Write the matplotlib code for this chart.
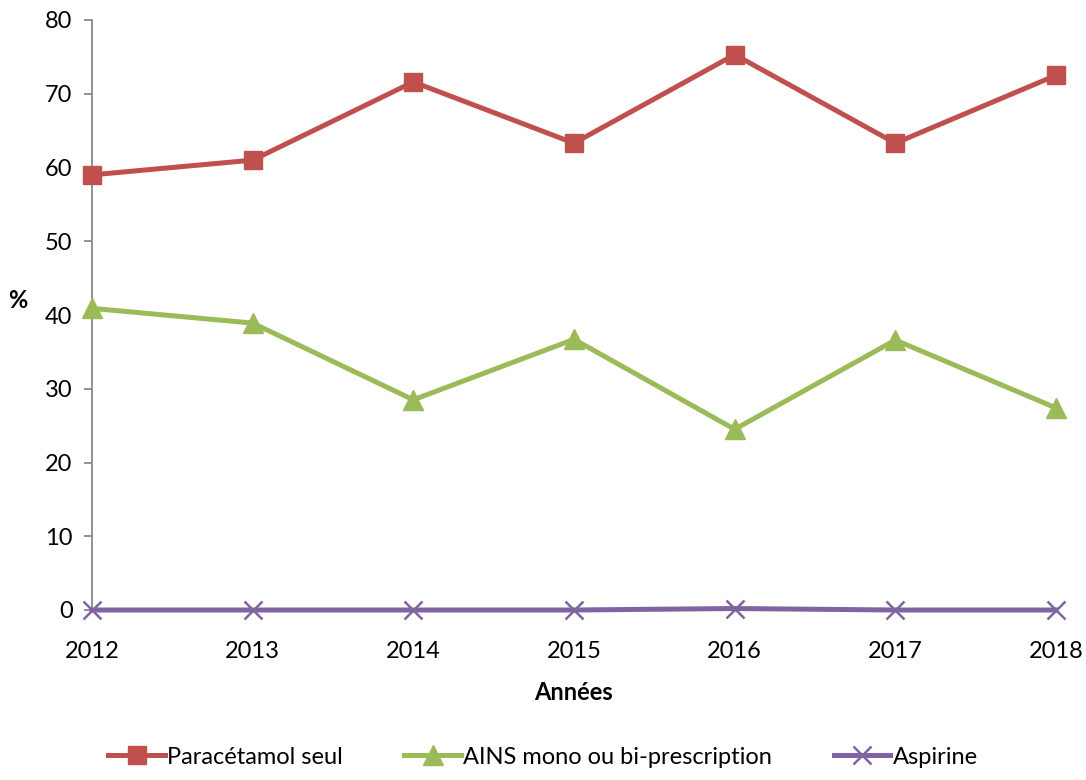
import matplotlib
matplotlib.use("Agg")
import matplotlib.pyplot as plt

plt.rcParams['font.family'] = ['Lato', 'DejaVu Sans']

#: data
annees = [2012, 2013, 2014, 2015, 2016, 2017, 2018]
paracetamol = [59.0, 61.0, 71.6, 63.3, 75.3, 63.3, 72.5]
ains = [40.9, 38.9, 28.5, 36.7, 24.5, 36.6, 27.4]
aspirine = [0.0, 0.0, 0.0, 0.0, 0.2, 0.0, 0.0]

fig = plt.figure(figsize=(10.86, 7.8), dpi=100)
ax = fig.add_axes([92/1086, 1 - 610/780, (1056-92)/1086, 590/780])

ax.plot(annees, paracetamol, color='#C0504D', lw=3.6, marker='s', ms=13,
        label='Paracétamol seul', clip_on=False, zorder=3)
ax.plot(annees, ains, color='#9BBB59', lw=3.6, marker='^', ms=14,
        label='AINS mono ou bi-prescription', clip_on=False, zorder=3)
ax.plot(annees, aspirine, color='#8064A2', lw=3.6, marker='x', ms=13, mew=1.8,
        label='Aspirine', clip_on=False, zorder=3)

ax.set_xlim(2012, 2018)
ax.set_ylim(0, 80)
ax.set_yticks(range(0, 81, 10))
ax.set_xticks(annees)

for s in ['top', 'right']:
    ax.spines[s].set_visible(False)
ax.spines['left'].set_color('#898989')
ax.spines['bottom'].set_color('#898989')
ax.spines['left'].set_linewidth(1.3)
ax.spines['bottom'].set_linewidth(1.3)
ax.tick_params(axis='y', length=6, width=1.3, color='#898989', labelsize=17, pad=8)
ax.tick_params(axis='x', length=0, labelsize=17, pad=22)

ax.set_xlabel('Années', fontsize=17, fontweight='bold', labelpad=14)
ax.set_ylabel('%', fontsize=17, fontweight='bold', rotation=0, labelpad=0)
ax.yaxis.set_label_coords(-0.077, 0.505)

fig.legend(loc='center', bbox_to_anchor=(0.5, 1 - 757/780), ncol=3, frameon=False,
           fontsize=17, handlelength=2.4, handletextpad=0.1, columnspacing=2.6)

fig.savefig('out.png', dpi=100)
